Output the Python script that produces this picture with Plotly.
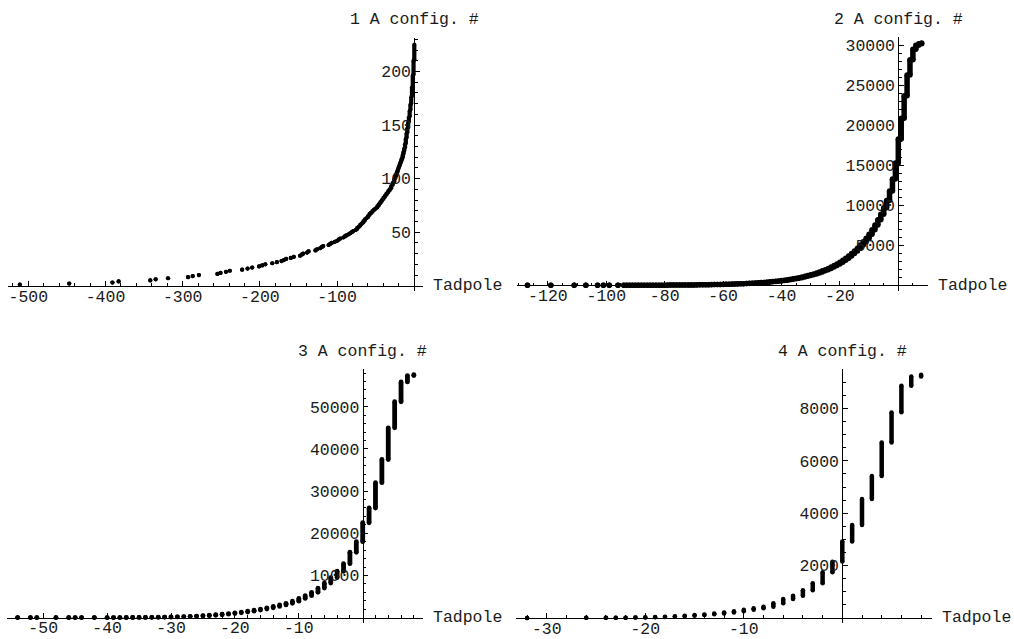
import plotly.graph_objects as go

W, H = 1014, 639
FONT = "Liberation Mono"
FS = 16.5
TXT = "#1a1a1a"

# ---------------- data: tadpole value and last config # reached at that value ----------------
tad1 = [-511, -447, -391, -383, -342, -335, -319, -293, -287, -279, -255, -251, -244, -239,
        -223, -216, -210, -201, -197, -193, -184, -178, -172, -169, -166, -160, -156, -148,
        -146, -144, -139, -137, -128, -126, -122, -120, -118, -111, -109, -107, -103, -100,
        -98, -96, -92, -90, -88, -85, -83, -81, -79, -76, -74, -72, -70, -68, -66, -64, -62,
        -60, -58, -56, -54, -52, -50, -48, -46, -44, -42, -40, -38, -36, -34, -32, -30, -28,
        -26, -25, -24, -23, -22, -21, -20, -19, -18, -17, -16, -15, -14, -13, -12, -11, -10,
        -9, -8, -7, -6, -5, -4, -3, -2, -1, 0]
conf1 = [1, 2, 3, 4, 5, 6, 7, 8, 9, 10, 11, 12, 13, 14,
         15, 16, 17, 18, 19, 20, 21, 22, 23, 24, 25, 26, 27, 28,
         29, 30, 31, 32, 33, 34, 35, 36, 37, 38, 39, 40, 41, 42,
         43, 44, 45, 46, 47, 48, 49, 50, 51, 52, 54, 55, 57, 58, 60, 62, 63,
         65, 67, 68, 70, 71, 72, 74, 76, 78, 80, 82, 84, 86, 88, 90, 93, 96,
         99, 101, 103, 105, 107, 109, 111, 113, 115, 117, 119, 122, 125, 128, 132, 137, 142,
         147, 152, 157, 163, 169, 176, 185, 196, 210, 225]

tad2 = [-127, -119, -111, -107, -103, -101, -99, -96, -94, -93, -92, -91, -90, -89, -88, -87,
        -86, -85, -84, -83, -82, -81, -80, -79, -78, -77, -76, -75, -74, -73, -72, -71, -70,
        -69, -68, -67, -66, -65, -64, -63, -62, -61, -60, -59, -58, -57, -56, -55, -54, -53,
        -52, -51, -50, -49, -48, -47, -46, -45, -44, -43, -42, -41, -40, -39, -38, -37, -36,
        -35, -34, -33, -32, -31, -30, -29, -28, -27, -26, -25, -24, -23, -22, -21, -20, -19,
        -18, -17, -16, -15, -14, -13, -12, -11, -10, -9, -8, -7, -6, -5, -4, -3, -2, -1, 0,
        1, 2, 3, 4, 5, 6, 7, 8]
conf2 = [1, 2, 3, 4, 5, 6, 7, 8, 9, 10, 11, 12, 13, 14, 15, 16,
         17, 18, 19, 21, 23, 25, 27, 29, 31, 33, 36, 39, 42, 45, 49, 53, 57,
         62, 67, 73, 79, 85, 92, 99, 107, 116, 125, 135, 146, 158, 171, 185, 200, 216,
         233, 252, 272, 294, 318, 344, 372, 402, 435, 471, 510, 552, 598, 648, 702, 760, 822,
         890, 965, 1045, 1130, 1220, 1320, 1430, 1545, 1670, 1810, 1960, 2120, 2290, 2480, 2680, 2900, 3140,
         3400, 3680, 3980, 4300, 4650, 5030, 5450, 5900, 6400, 6950, 7550, 8200, 8900, 9700, 10600, 11800, 13300, 15300, 18300,
         20900, 23700, 26300, 28200, 29500, 30000, 30200, 30300]

tad3 = [-54, -52, -51, -48, -46, -45, -44, -42, -40, -39, -38, -37, -36, -35, -34, -33, -32,
        -31, -30, -29, -28, -27, -26, -25, -24, -23, -22, -21, -20, -19, -18, -17, -16, -15,
        -14, -13, -12, -11, -10, -9, -8, -7, -6, -5, -4, -3, -2, -1, 0, 1, 2, 3, 4, 5, 6, 7, 8]
conf3 = [1, 2, 3, 4, 5, 6, 7, 8, 13, 17, 22, 28, 36, 46, 59, 76, 97,
         124, 157, 198, 248, 308, 380, 465, 565, 680, 810, 960, 1130, 1320, 1540, 1780, 2040, 2330,
         2650, 3000, 3400, 3900, 4550, 5200, 6000, 7000, 8200, 9500, 11000, 12800, 15500, 18000, 22500,
         26000, 32000, 37500, 45000, 51200, 55900, 57400, 57600]

tad4 = [-32, -26, -24, -23, -22, -21, -20, -19, -18, -17, -16, -15, -14, -13, -12, -11, -10,
        -9, -8, -7, -6, -5, -4, -3, -2, -1, 0, 1, 2, 3, 4, 5, 6, 7, 8]
conf4 = [1, 2, 4, 7, 11, 17, 25, 35, 48, 64, 84, 108, 135, 168, 208, 255, 310,
         370, 430, 560, 720, 850, 1060, 1320, 1740, 2150, 2920, 3550, 4540, 5420, 6700, 7850, 8870, 9220, 9290]

titles = ["1 A config. #", "2 A config. #", "3 A config. #", "4 A config. #"]
xlabel = "Tadpole"

x1_ticks = [-500, -400, -300, -200, -100]
y1_ticks = [50, 100, 150, 200]
x2_ticks = [-120, -100, -80, -60, -40, -20]
y2_ticks = [5000, 10000, 15000, 20000, 25000, 30000]
x3_ticks = [-50, -40, -30, -20, -10]
y3_ticks = [10000, 20000, 30000, 40000, 50000]
x4_ticks = [-30, -20, -10]
y4_ticks = [2000, 4000, 6000, 8000]

# ---------------- layout geometry (pixels) ----------------
panels = [
    dict(tad=tad1, conf=conf1, xt=x1_ticks, yt=y1_ticks, xminor=20, yminor=10, ms=4.2,
         px0=414.3, sx=0.772, xl=8, xr=423, py0=288, sy=1.08, ytop=38, ybot=293, ttl_y=19.5),
    dict(tad=tad2, conf=conf2, xt=x2_ticks, yt=y2_ticks, xminor=5, yminor=1000, ms=5.5,
         px0=898.3, sx=2.92, xl=516.7, xr=928, py0=287.6, sy=0.008064, ytop=37.7, ybot=293, ttl_y=20),
    dict(tad=tad3, conf=conf3, xt=x3_ticks, yt=y3_ticks, xminor=2, yminor=2000, ms=4.8,
         px0=362.7, sx=6.39, xl=7.3, xr=423.3, py0=622.5, sy=0.00425, ytop=371.7, ybot=628, ttl_y=354),
    dict(tad=tad4, conf=conf4, xt=x4_ticks, yt=y4_ticks, xminor=2, yminor=500, ms=4.5,
         px0=842.3, sx=9.85, xl=516, xr=931.7, py0=622.8, sy=0.02639, ytop=371.7, ybot=628, ttl_y=354),
]

fig = go.Figure()
annotations = []


def minor_vals(lo, hi, step, majors):
    vals = []
    k = int(lo // step) - 1
    while k * step <= hi:
        v = k * step
        if lo <= v <= hi and v not in majors and v != 0:
            vals.append(v)
        k += 1
    return vals


for i, p in enumerate(panels):
    n = "" if i == 0 else str(i + 1)
    xs, ys = [], []
    prev = 0
    for t, c in zip(p["tad"], p["conf"]):
        xs += [t, t, None]
        ys += [prev + 1, c, None]
        prev = c
    fig.add_trace(go.Scatter(
        x=xs, y=ys, mode="lines+markers", xaxis="x" + n, yaxis="y" + n,
        line=dict(color="black", width=p["ms"]),
        marker=dict(color="black", size=p["ms"], line=dict(width=0)),
        showlegend=False, hoverinfo="skip", cliponaxis=False))

    xrng = [(p["xl"] - p["px0"]) / p["sx"], (p["xr"] - p["px0"]) / p["sx"]]
    yrng = [(p["py0"] - p["ybot"]) / p["sy"], (p["py0"] - p["ytop"]) / p["sy"]]
    common = dict(showgrid=False, zeroline=False, showline=True, linecolor="black", linewidth=1,
                  ticks="inside", ticklen=4.5, tickwidth=1, tickcolor="black",
                  tickfont=dict(family=FONT, size=FS, color=TXT), tickmode="array")
    fig.layout["xaxis" + n] = dict(
        common, domain=[p["xl"] / W, p["xr"] / W], range=xrng, anchor="free",
        position=1 - p["py0"] / H, tickvals=p["xt"], ticktext=[str(v) for v in p["xt"]],
        ticklabelstandoff=-5,
        minor=dict(tickmode="array", tickvals=minor_vals(xrng[0], xrng[1], p["xminor"], p["xt"]),
                   ticks="inside", ticklen=2.5, tickwidth=1, tickcolor="black"))
    fig.layout["yaxis" + n] = dict(
        common, domain=[1 - p["ybot"] / H, 1 - p["ytop"] / H], range=yrng, anchor="free",
        position=p["px0"] / W, tickvals=p["yt"], ticktext=[str(v) for v in p["yt"]],
        minor=dict(tickmode="array", tickvals=minor_vals(yrng[0], yrng[1], p["yminor"], p["yt"]),
                   ticks="inside", ticklen=2.5, tickwidth=1, tickcolor="black"))

    annotations.append(dict(text=titles[i], x=p["px0"] / W, y=1 - p["ttl_y"] / H, xref="paper", yref="paper",
                            xanchor="center", yanchor="middle", showarrow=False,
                            font=dict(family=FONT, size=FS, color=TXT)))
    annotations.append(dict(text=xlabel, x=(p["xr"] + 9) / W, y=1 - p["py0"] / H, xref="paper", yref="paper",
                            xanchor="left", yanchor="middle", showarrow=False, borderpad=0,
                            font=dict(family=FONT, size=FS, color=TXT)))

fig.update_layout(width=W, height=H, margin=dict(l=0, r=0, t=0, b=0),
                  paper_bgcolor="white", plot_bgcolor="white",
                  font=dict(family=FONT, size=FS, color=TXT),
                  annotations=annotations, showlegend=False)

fig.write_html("out.html", config={"displayModeBar": False},
               post_script="document.body.style.margin='0';document.body.style.padding='0';"
                           "document.body.style.overflow='hidden';")
